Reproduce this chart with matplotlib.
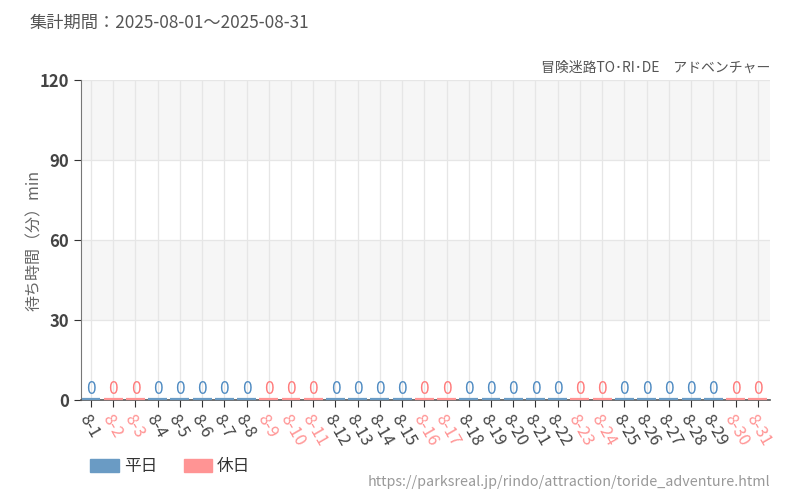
import numpy as np
import matplotlib.pyplot as plt
from matplotlib.patches import Patch

plt.rcParams['font.family'] = ['Noto Sans CJK JP', 'DejaVu Sans']

days = ['8-%d' % d for d in range(1, 32)]
holidays = ['8-2', '8-3', '8-9', '8-10', '8-11', '8-16', '8-17',
            '8-23', '8-24', '8-30', '8-31']
wait = [0] * 31

blue = '#6a9bc4'
pink = '#ff9494'
blue_txt = '#4f8bc2'
pink_txt = '#ff7b7b'

is_hol = [d in holidays for d in days]
x = np.arange(len(days))

fig = plt.figure(figsize=(8, 5), dpi=100)
ax = fig.add_axes([0.10125, 0.2, 0.8612, 0.64])

# background bands
for lo, hi in [(30, 60), (90, 120)]:
    ax.axhspan(lo, hi, color='#f6f6f6', zorder=0, lw=0)
ax.set_xlim(-0.45, len(days) - 0.45)
ax.set_ylim(0, 120)
ax.set_yticks([0, 30, 60, 90, 120])
ax.set_xticks(x)
ax.grid(True, color='#e6e6e6', lw=0.9, zorder=1)
ax.set_axisbelow(True)

cols = [pink if h else blue for h in is_hol]
bars = ax.bar(x, wait, width=0.85, color=cols, edgecolor=cols, lw=1.6, zorder=5)
for b in bars:
    b.set_clip_on(False)
    b.set_y(0.5)
for xi, v, h in zip(x, wait, is_hol):
    ax.text(xi, v + 0.9, str(v), ha='center', va='bottom', fontsize=12.5,
            color=pink_txt if h else blue_txt, zorder=6)

ax.set_xticklabels(days, rotation=-60, ha='left', va='top',
                   rotation_mode='anchor', fontsize=12)
for lab, h in zip(ax.get_xticklabels(), is_hol):
    lab.set_color(pink if h else '#444444')
ax.tick_params(axis='x', length=5, color='#333333', pad=3)
ax.tick_params(axis='y', length=5, color='#333333', labelsize=12,
               labelcolor='#444444')
for lab in ax.get_yticklabels():
    lab.set_fontweight('bold')

for s in ['top', 'right']:
    ax.spines[s].set_visible(False)
ax.spines['left'].set_color('#777777')
ax.spines['bottom'].set_color('#555555')
ax.spines['bottom'].set_linewidth(1.2)

ax.set_ylabel('待ち時間（分）min', color='#666666', fontsize=11.5, labelpad=2)
ax.yaxis.set_label_coords(-0.055, 0.5)

fig.text(0.0375, 0.955, '集計期間：2025-08-01～2025-08-31', fontsize=12.4,
         color='#555555', va='center')
fig.text(0.9625, 0.865, '冒険迷路TO･RI･DE　アドベンチャー', fontsize=10,
         color='#555555', ha='right', va='center')
fig.text(0.9625, 0.036, 'https://parksreal.jp/rindo/attraction/toride_adventure.html',
         fontsize=10.3, color='#999999', ha='right', va='center')

handles = [Patch(color=blue, label='平日'), Patch(color=pink, label='休日')]
fig.legend(handles=handles, loc='center left', bbox_to_anchor=(0.113, 0.066),
           ncol=2, frameon=False, fontsize=12, handlelength=1.7,
           handleheight=0.8, columnspacing=1.6, handletextpad=0.3,
           labelcolor='#333333', borderpad=0, borderaxespad=0)

fig.savefig('out.png', dpi=100)
